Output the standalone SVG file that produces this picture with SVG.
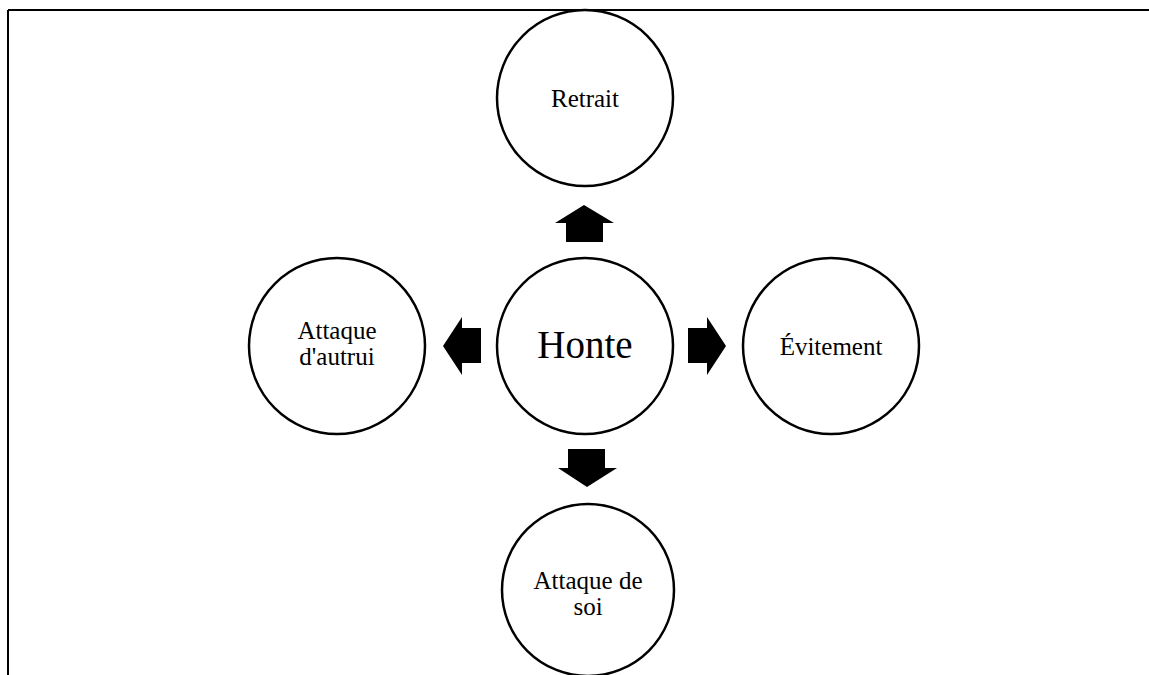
<svg xmlns="http://www.w3.org/2000/svg" width="1149" height="675" viewBox="0 0 1149 675">
<style>
.node circle{fill:#fff;stroke:#000;stroke-width:2.5}
text{font-family:"Liberation Serif","Times New Roman",serif;fill:#000;text-anchor:middle;font-size:25px}
.big{font-size:39px}
.arrow{fill:#000;stroke:none}
</style>
<rect width="1149" height="675" fill="#fff"/>
<g id="frame" stroke="#000" stroke-width="2" fill="none">
<line x1="8" y1="10" x2="1149" y2="10"/>
<line x1="8" y1="10" x2="8" y2="675"/>
</g>
<g id="node-retrait" class="node"><circle cx="585" cy="98" r="88"/><text x="585" y="107">Retrait</text></g>
<g id="node-honte" class="node"><circle cx="585" cy="346" r="88"/><text class="big" x="585" y="358">Honte</text></g>
<g id="node-autrui" class="node"><circle cx="337" cy="346" r="88"/><text x="337" y="339">Attaque</text><text x="337" y="365">d'autrui</text></g>
<g id="node-evitement" class="node"><circle cx="831" cy="346" r="88"/><text x="831" y="355">Évitement</text></g>
<g id="node-soi" class="node"><circle cx="588" cy="590" r="86"/><text x="588" y="589">Attaque de</text><text x="588" y="615">soi</text></g>
<g id="connectors" class="arrow">
<polygon points="584,205 614,223 603,223 603,242 566,242 566,223 555,223"/>
<polygon points="443,346 462,317 462,328 481,328 481,363 462,363 462,375"/>
<polygon points="726,346 707,317 707,328 688,328 688,363 707,363 707,375"/>
<polygon points="587,487 617,468 605,468 605,449 568,449 568,468 558,468"/>
</g>
</svg>
